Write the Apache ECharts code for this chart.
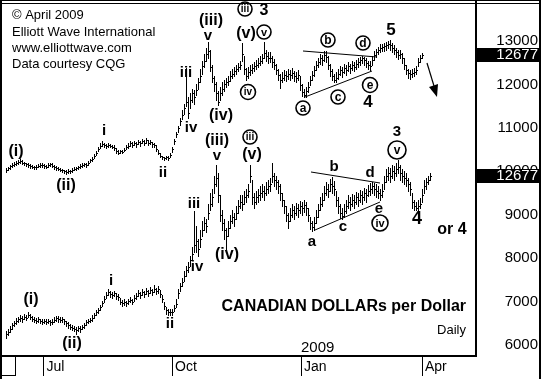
<!DOCTYPE html>
<html><head><meta charset="utf-8">
<script src="https://cdn.jsdelivr.net/npm/echarts@6/dist/echarts.min.js"></script>
<style>html,body{margin:0;padding:0;background:#fff}#c{width:544px;height:379px}</style>
</head><body><div id="c"></div>
<script>
// ---- data: [close, high, low] per trading day ----
const upperBars = [
[10040,10080,9990],[10080,10110,10020],[10120,10150,10060],[10150,10180,10100],[10170,10210,10130],
[10190,10230,10140],[10210,10250,10160],[10240,10290,10190],[10200,10260,10170],[10180,10220,10140],
[10160,10200,10120],[10140,10180,10100],[10120,10160,10080],[10110,10150,10070],[10090,10130,10060],
[10100,10140,10060],[10130,10170,10090],[10150,10190,10110],[10140,10180,10100],[10120,10160,10080],
[10110,10150,10070],[10140,10180,10100],[10160,10200,10120],[10130,10180,10090],[10100,10140,10060],
[10080,10120,10040],[10060,10100,10020],[10040,10080,10000],[10020,10060,9980],[10000,10040,9960],
[9990,10030,9940],[10010,10050,9970],[10000,10040,9960],[10030,10070,9990],[10060,10090,10020],
[10080,10110,10040],[10090,10130,10050],[10120,10160,10080],[10140,10180,10100],[10160,10200,10120],
[10150,10190,10110],[10190,10230,10150],[10260,10290,10210],[10290,10330,10240],[10350,10390,10300],
[10420,10460,10370],[10520,10560,10470],[10590,10640,10540],[10620,10690,10580],[10600,10650,10560],
[10580,10630,10540],[10610,10650,10560],[10590,10630,10550],[10570,10610,10530],[10540,10600,10490],
[10470,10540,10430],[10430,10480,10400],[10460,10500,10420],[10450,10490,10410],[10500,10540,10460],
[10560,10610,10510],[10580,10640,10540],[10640,10690,10590],[10610,10670,10570],[10650,10700,10600],
[10620,10680,10570],[10670,10720,10620],[10640,10700,10590],[10690,10740,10640],[10660,10720,10610],
[10710,10770,10660],[10650,10710,10600],[10680,10730,10630],[10620,10680,10570],[10600,10660,10550],
[10520,10600,10470],[10430,10500,10390],[10360,10430,10320],[10320,10360,10280],[10300,10340,10260],
[10320,10360,10280],[10310,10350,10270],[10380,10420,10320],[10520,10560,10440],[10700,10750,10620],
[10850,10900,10780],[10990,11050,10900],[11150,11220,11060],[11300,11400,11200],[11450,11560,11330],
[11600,12380,11500],[11350,11700,11230],[11650,11800,11450],[11800,11900,11600],[11700,11870,11550],
[11880,12000,11750],[12050,12150,11900],[12200,12350,12050],[12420,12550,12250],[12550,12700,12400],
[12700,12850,12550],[12780,12980,12600],[12400,12800,12300],[12150,12450,12050],[12000,12200,11850],
[11800,12050,11650],[11600,11850,11530],[11800,11950,11650],[11900,12050,11750],[12000,12100,11850],
[12050,12150,11950],[12080,12200,11980],[12200,12300,12080],[12250,12350,12150],[12300,12400,12200],
[12350,12450,12250],[12400,12500,12300],[12450,12550,12350],[12700,12950,12550],[12350,12650,12250],
[12200,12380,12100],[12280,12400,12150],[12330,12450,12220],[12380,12480,12270],[12420,12520,12320],
[12450,12560,12350],[12500,12600,12400],[12550,12650,12450],[12600,12700,12500],[12720,12980,12600],
[12650,12800,12550],[12600,12750,12500],[12620,12740,12520],[12520,12650,12400],[12450,12580,12350],
[12330,12480,12250],[12220,12350,12100],[12100,12250,11920],[12150,12280,12050],[12220,12330,12100],
[12190,12310,12080],[12240,12350,12130],[12210,12330,12100],[12260,12380,12150],[12190,12300,12080],
[12150,12280,12050],[12210,12330,12100],[11980,12200,11880],[11830,12000,11740],[11760,11900,11710],
[11850,11950,11720],[11950,12050,11830],[12100,12200,11980],[12220,12320,12100],[12330,12430,12200],
[12450,12550,12330],[12520,12620,12400],[12600,12700,12480],[12560,12680,12450],[12680,12780,12550],
[12640,12760,12520],[12450,12650,12350],[12300,12480,12200],[12200,12350,12100],[12100,12250,12050],
[12150,12280,12060],[12240,12350,12130],[12330,12430,12220],[12280,12400,12170],[12380,12470,12270],
[12330,12440,12220],[12420,12520,12310],[12380,12480,12270],[12450,12550,12340],[12400,12510,12300],
[12470,12570,12360],[12520,12610,12410],[12560,12640,12450],[12600,12650,12500],[12560,12630,12450],
[12490,12600,12400],[12450,12550,12350],[12420,12530,12330],[12560,12650,12450],[12680,12760,12560],
[12740,12820,12640],[12790,12870,12690],[12840,12920,12740],[12860,12940,12760],[12880,12960,12780],
[12900,12980,12800],[12930,13000,12830],[12900,13020,12800],[12840,12950,12740],[12790,12900,12690],
[12740,12850,12640],[12680,12800,12580],[12700,12800,12600],[12610,12720,12500],[12450,12600,12350],
[12330,12450,12250],[12260,12350,12150],[12240,12330,12120],[12260,12350,12160],[12290,12380,12190],
[12330,12420,12230],[12510,12600,12420],[12610,12680,12520],[12677,12720,12600]
];
const lowerBars = [
[6250,6320,6160],[6300,6360,6220],[6380,6440,6300],[6450,6510,6380],[6500,6560,6430],
[6560,6620,6490],[6590,6650,6530],[6620,6680,6560],[6600,6670,6540],[6650,6710,6590],
[6630,6700,6570],[6700,6760,6640],[6650,6720,6590],[6610,6670,6550],[6580,6640,6520],
[6560,6620,6500],[6590,6640,6530],[6560,6610,6500],[6540,6600,6490],[6560,6610,6510],
[6530,6590,6480],[6550,6600,6500],[6520,6580,6470],[6540,6600,6490],[6580,6640,6520],
[6620,6670,6560],[6600,6660,6540],[6580,6640,6520],[6600,6650,6540],[6550,6610,6490],
[6500,6560,6440],[6460,6520,6400],[6420,6480,6360],[6400,6450,6340],[6380,6440,6320],
[6350,6410,6260],[6390,6440,6320],[6370,6430,6310],[6420,6470,6360],[6460,6510,6400],
[6520,6570,6460],[6560,6610,6500],[6580,6630,6520],[6620,6680,6560],[6690,6740,6620],
[6750,6800,6690],[6800,6860,6740],[6870,6930,6800],[6960,7020,6890],[7060,7120,6990],
[7150,7220,7080],[7220,7300,7150],[7180,7250,7110],[7150,7220,7090],[7190,7250,7120],
[7130,7200,7060],[7100,7170,7040],[7000,7080,6940],[6960,7030,6900],[6990,7050,6920],
[6960,7020,6900],[7010,7070,6950],[7040,7100,6980],[7000,7060,6940],[7080,7150,7020],
[7120,7190,7060],[7200,7270,7130],[7160,7230,7090],[7230,7300,7160],[7180,7250,7110],
[7250,7320,7180],[7200,7270,7130],[7270,7340,7200],[7230,7300,7160],[7300,7380,7230],
[7240,7310,7170],[7280,7350,7200],[7180,7260,7110],[7050,7150,6980],[6900,7000,6830],
[6800,6880,6720],[6750,6820,6680],[6770,6830,6690],[6760,6820,6700],[6850,6920,6780],
[6950,7050,6880],[7200,7280,7080],[7350,7430,7250],[7450,7550,7350],[7600,7700,7480],
[7720,7820,7600],[7800,7920,7680],[7950,8050,7820],[8100,8250,7950],[8300,9080,8150],
[8400,8750,8150],[8200,8450,8050],[8450,8650,8250],[8650,8850,8500],[8800,8950,8650],
[8750,8900,8600],[9050,9250,8900],[9250,9500,9100],[9400,9600,9200],[9700,9900,9500],
[9850,10150,9650],[9450,9950,9300],[9000,9450,8850],[8800,9100,8650],[8650,8900,8450],
[8500,8700,8220],[8700,8850,8500],[8850,9000,8700],[8950,9100,8800],[8900,9050,8750],
[9050,9200,8900],[9200,9350,9050],[9300,9450,9150],[9250,9450,9100],[9400,9550,9250],
[9450,9600,9300],[9550,9700,9400],[9900,10150,9750],[9400,9800,9250],[9300,9500,9150],
[9400,9550,9250],[9450,9600,9300],[9500,9650,9350],[9550,9700,9400],[9500,9650,9350],
[9600,9750,9450],[9650,9800,9500],[9700,9850,9550],[9900,10200,9750],[9800,9950,9650],
[9750,9900,9600],[9650,9800,9500],[9500,9700,9350],[9350,9500,9200],[9200,9350,9050],
[9000,9200,8850],[8850,9050,8700],[9000,9150,8850],[9100,9250,8950],[9050,9200,8900],
[9150,9280,9000],[9100,9250,8950],[9200,9320,9050],[9150,9300,9000],[9220,9350,9070],
[9150,9300,9000],[9000,9150,8850],[8800,8950,8680],[8720,8850,8620],[8800,8950,8650],
[8950,9100,8800],[9100,9250,8950],[9250,9400,9100],[9350,9500,9200],[9500,9650,9350],
[9600,9750,9450],[9550,9700,9400],[9700,9820,9550],[9650,9870,9500],[9600,9780,9450],
[9350,9550,9200],[9200,9400,9050],[9050,9250,8920],[8980,9150,8900],[9080,9250,8950],
[9200,9350,9050],[9300,9450,9150],[9250,9400,9100],[9350,9480,9200],[9300,9450,9150],
[9400,9520,9250],[9350,9500,9200],[9450,9580,9300],[9400,9550,9250],[9500,9620,9350],
[9450,9600,9300],[9550,9680,9420],[9600,9720,9450],[9650,9760,9500],[9600,9730,9450],
[9550,9700,9400],[9500,9650,9380],[9450,9600,9350],[9550,9700,9400],[9750,9900,9600],
[9900,10050,9750],[9950,10100,9800],[9900,10080,9750],[10000,10150,9850],[9950,10120,9800],
[10050,10200,9900],[10100,10260,9950],[9950,10150,9800],[9900,10050,9750],[9850,10000,9700],
[9800,9950,9650],[9700,9850,9550],[9600,9750,9450],[9300,9500,9150],[9200,9350,9100],
[9150,9300,9100],[9200,9330,9100],[9250,9380,9150],[9450,9600,9300],[9650,9800,9500],
[9750,9850,9600],[9800,9900,9700],[9900,9950,9800]
];
const yTicks = [6000, 7000, 8000, 9000, 10000, 11000, 12000, 13000];
const monthTicks = [18.75, 83, 147.5, 208];
const monthLabels = ['Jul', 'Oct', 'Jan', 'Apr'];
const lastQuote = '12677';

const FONT = '"Liberation Sans", Arial, Helvetica, sans-serif';
const chart = echarts.init(document.getElementById('c'), null, {renderer: 'canvas'});

function ohlcRender(bars) {
  return function (params, api) {
    const i = api.value(0);
    const ph = api.coord([i, api.value(2)]);
    const pl = api.coord([i, api.value(3)]);
    const pc = api.coord([i, api.value(1)]);
    const x = Math.round(ph[0]);
    const yt = Math.round(ph[1]), yb = Math.round(pl[1]);
    const st = {fill: '#000'};
    const kids = [
      {type: 'rect', shape: {x: x, y: yt, width: 1, height: Math.max(1, yb - yt + 1)}, style: st},
      {type: 'rect', shape: {x: x + 1, y: Math.round(pc[1]), width: 1, height: 1}, style: st}
    ];
    if (params.dataIndex > 0) {
      const po = api.coord([i, bars[params.dataIndex - 1][0]]);
      kids.push({type: 'rect', shape: {x: x - 1, y: Math.round(po[1]), width: 1, height: 1}, style: st});
    }
    return {type: 'group', children: kids};
  };
}

chart.setOption({
  animation: false,
  backgroundColor: '#fff',
  grid: {left: 4, top: 4, width: 472, height: 351},
  xAxis: {
    type: 'value', min: -1, max: 235,
    splitLine: {show: false},
    axisLine: {show: false},
    axisTick: {show: true, customValues: monthTicks, length: 21, lineStyle: {color: '#000', width: 1}},
    axisLabel: {
      customValues: monthTicks, align: 'left', padding: [0, 0, 0, 3], margin: 5,
      fontFamily: FONT, fontSize: 14, color: '#000',
      formatter: function (v) { const k = monthTicks.indexOf(v); return k >= 0 ? monthLabels[k] : ''; }
    }
  },
  yAxis: {
    type: 'value', position: 'right', min: 5770, max: 13852,
    splitLine: {show: false}, axisLine: {show: false}, axisTick: {show: false},
    axisLabel: {customValues: yTicks, align: 'right', margin: 62, fontFamily: FONT, fontSize: 15, color: '#000',
      formatter: function (v) { return String(v); }}
  },
  series: [
    {type: 'custom', renderItem: ohlcRender(upperBars), data: upperBars.map((b, i) => [i, b[0], b[1], b[2]]), encode: {x: 0, y: [1, 2, 3]}},
    {type: 'custom', renderItem: ohlcRender(lowerBars), data: lowerBars.map((b, i) => [i, b[0], b[1], b[2]]), encode: {x: 0, y: [1, 2, 3]}}
  ]
});

// ---- annotations ----
function txt(s, x, y, size, bold, align) {
  return {type: 'text', x: x, y: y, z: 50, style: {text: s, fill: '#000', font: (bold ? 'bold ' : '') + size + 'px ' + FONT,
    align: align || 'center', textAlign: align || 'center', verticalAlign: 'middle', textVerticalAlign: 'middle'}};
}
function circ(s, x, y, r, size) {
  return {type: 'group', z: 50, children: [
    {type: 'circle', shape: {cx: x, cy: y, r: r}, style: {fill: '#fff', stroke: '#000', lineWidth: 1.6}, z: 50},
    {type: 'text', x: x, y: y + 0.5, z: 51, style: {text: s, fill: '#000', font: 'bold ' + size + 'px ' + FONT,
      align: 'center', textAlign: 'center', verticalAlign: 'middle', textVerticalAlign: 'middle'}}
  ]};
}
function seg(x1, y1, x2, y2, w) {
  return {type: 'line', z: 40, shape: {x1: x1, y1: y1, x2: x2, y2: y2}, style: {stroke: '#000', lineWidth: w || 1}};
}
function box(x, y, w, h) {
  return {type: 'rect', z: 60, shape: {x: x, y: y, width: w, height: h}, style: {fill: '#000'}};
}

const g = [];
// frame
g.push(box(0, 0, 2, 379), box(0, 0, 541, 1), box(0, 3, 541, 1), box(539, 0, 2, 379),
  box(475, 0, 2, 357), box(0, 355, 476, 2), box(15, 355, 1, 21), box(0, 375, 16, 1));
// header texts
g.push(txt('© April 2009', 12, 15, 13, false, 'left'), txt('Elliott Wave International', 12, 32, 13, false, 'left'),
  txt('www.elliottwave.com', 12, 48, 13, false, 'left'), txt('Data courtesy CQG', 12, 64, 13, false, 'left'));
g.push(txt('CANADIAN DOLLARs per Dollar', 466, 307, 16, true, 'right'), txt('Daily', 466, 330, 13, false, 'right'),
  txt('2009', 301, 348, 15, false, 'left'));
// upper wave labels
g.push(txt('(i)', 16, 152, 16, true), txt('(ii)', 66, 186, 16, true), txt('i', 104, 131, 15, true),
  txt('ii', 163, 173, 15, true), txt('iii', 186, 73, 15, true), txt('iv', 191, 128, 15, true),
  txt('(iii)', 211, 21, 16, true), txt('v', 208, 36, 15, true), txt('(iv)', 221, 116, 16, true),
  txt('(v)', 246, 34, 16, true), txt('3', 264, 11, 16, true), txt('5', 391, 30, 17, true), txt('4', 368, 102, 17, true));
g.push(circ('iii', 245, 9, 7, 10), circ('v', 264, 32, 7, 11), circ('iv', 248, 92, 7.5, 10),
  circ('b', 328, 40, 7, 12), circ('d', 363, 43, 7, 12), circ('e', 370, 85, 7.5, 12),
  circ('c', 338, 97, 7, 12), circ('a', 303, 108, 7, 12));
g.push(seg(303, 51, 377, 57), seg(305, 97, 372, 71));
// arrow
g.push(seg(427, 63, 434, 86, 1.2), {type: 'polygon', z: 40, shape: {points: [[437, 97], [438, 84], [429, 87]]}, style: {fill: '#000'}});
// lower wave labels
g.push(txt('(i)', 31, 300, 16, true), txt('(ii)', 72, 344, 16, true), txt('i', 111, 281, 15, true),
  txt('ii', 170, 324, 15, true), txt('iii', 194, 204, 15, true), txt('iv', 197, 267, 15, true),
  txt('(iii)', 217, 141, 16, true), txt('v', 217, 156, 15, true), txt('(iv)', 227, 255, 16, true),
  txt('(v)', 252, 155, 16, true), txt('b', 334, 167, 15, true), txt('d', 370, 173, 15, true),
  txt('3', 397, 132, 15, true), txt('e', 379, 209, 15, true), txt('c', 343, 227, 15, true),
  txt('a', 312, 242, 15, true), txt('4', 417, 219, 18, true), txt('or 4', 452, 230, 16, true));
g.push(circ('iii', 250, 137, 7, 10), circ('v', 397, 150, 9, 12), circ('iv', 380, 223, 8, 11));
g.push(seg(311, 172, 380, 183), seg(315, 230, 380, 202));

// last-quote boxes tied to the last closes
[upperBars, lowerBars].forEach(function (bars) {
  const y = chart.convertToPixel({yAxisIndex: 0}, bars[bars.length - 1][0]);
  g.push(box(477, Math.round(y) - 7, 63, 14));
  g.push({type: 'text', x: 538, y: Math.round(y), z: 70, style: {text: lastQuote, fill: '#fff', font: '15px ' + FONT,
    align: 'right', textAlign: 'right', verticalAlign: 'middle', textVerticalAlign: 'middle'}});
});
chart.setOption({graphic: {elements: g}});
</script>
</body></html>
